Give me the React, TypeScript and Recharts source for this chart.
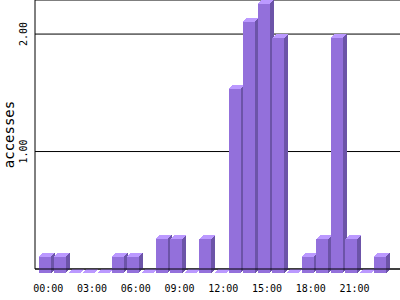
// Hourly accesses: 3D-look bar chart
import { BarChart, Bar, XAxis, YAxis, CartesianGrid } from 'recharts';

const hours = [
  '00:00', '01:00', '02:00', '03:00', '04:00', '05:00', '06:00', '07:00',
  '08:00', '09:00', '10:00', '11:00', '12:00', '13:00', '14:00', '15:00',
  '16:00', '17:00', '18:00', '19:00', '20:00', '21:00', '22:00', '23:00',
];
const accesses = [
  0.14, 0.14, 0, 0, 0, 0.14, 0.14, 0,
  0.29, 0.29, 0, 0.29, 0, 1.57, 2.14, 2.29,
  2.0, 0, 0.14, 0.29, 2.0, 0.29, 0, 0.14,
];
const yTicks = [1, 2];

const FRONT = '#9370db';
const TOP = '#bb99ff';
const SIDE = '#6c54a8';
const MONO = '"DejaVu Sans Mono", monospace';

const data = hours.map((hour, i) => ({ hour, value: accesses[i] }));

function Bar3D(props: any) {
  const { x, y, width, height } = props;
  const d = 4;
  const fy = y + d;
  const fb = y + height + d;
  return (
    <g shapeRendering="crispEdges">
      <rect x={x} y={fy} width={width} height={height} fill={FRONT} />
      <polygon points={`${x},${fy} ${x + d},${y} ${x + width + d},${y} ${x + width},${fy}`} fill={TOP} />
      <polygon points={`${x + width},${fy} ${x + width + d},${y} ${x + width + d},${y + height} ${x + width},${fb}`} fill={SIDE} />
    </g>
  );
}

function HourTick({ x, y, payload }: any) {
  return (
    <text x={x + 3} y={y + 15} textAnchor="middle" fontFamily={MONO} fontSize={10} fill="#000">
      {payload.value}
    </text>
  );
}

function ValueTick({ y, payload }: any) {
  return (
    <text x={27} y={y} transform={`rotate(-90, 27, ${y})`} textAnchor="middle" fontFamily={MONO} fontSize={10} fill="#000">
      {payload.value.toFixed(2)}
    </text>
  );
}

function AxisTitle({ viewBox }: any) {
  const cy = viewBox ? viewBox.y + viewBox.height / 2 : 134;
  return (
    <text x={14} y={cy} transform={`rotate(-90, 14, ${cy})`} textAnchor="middle" fontFamily={MONO} fontSize={14} fill="#000">
      accesses
    </text>
  );
}

export default function App() {
  return (
    <div style={{ position: 'absolute', left: 0, top: 0, width: 400, height: 300, background: '#fff' }}>
      <BarChart width={400} height={300} data={data} margin={{ top: 0, right: 0, left: 0, bottom: 0 }} barSize={12}>
        <CartesianGrid vertical={false} stroke="#000" />
        <XAxis
          dataKey="hour"
          interval={2}
          height={31}
          padding={{ left: 3, right: 12 }}
          axisLine={{ stroke: '#000' }}
          tickLine={false}
          tick={<HourTick />}
        />
        <YAxis
          width={35}
          domain={[0, 2.29]}
          ticks={yTicks}
          axisLine={{ stroke: '#000' }}
          tickLine={false}
          tick={<ValueTick />}
          label={<AxisTitle />}
        />
        <Bar dataKey="value" shape={<Bar3D />} isAnimationActive={false} />
      </BarChart>
    </div>
  );
}
